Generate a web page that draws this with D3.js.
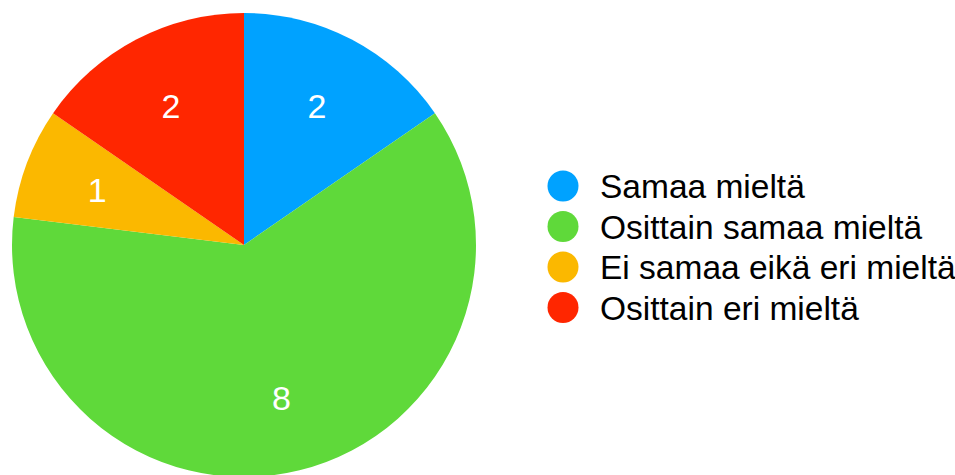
<!DOCTYPE html>
<html><head><meta charset="utf-8">
<script src="https://cdn.jsdelivr.net/npm/d3@7"></script>
<style>body{margin:0;background:#fff}</style>
</head><body>
<svg id="c" width="955" height="475"></svg>
<script>
const categories = ["Samaa mieltä", "Osittain samaa mieltä", "Ei samaa eikä eri mieltä", "Osittain eri mieltä"];
const values = [2, 8, 1, 2];
const colors = ["#00A2FF", "#5FD93A", "#FBB800", "#FF2600"];

const svg = d3.select("#c");
const cx = 244, cy = 245, r = 232;
const pie = d3.pie().sort(null).value(d => d)(values);
const arc = d3.arc().innerRadius(0).outerRadius(r);
const labelArc = d3.arc().innerRadius(157).outerRadius(157);
const g = svg.append("g").attr("transform", `translate(${cx},${cy})`);
g.selectAll("path").data(pie).join("path")
  .attr("d", arc).attr("fill", (d,i) => colors[i]);
g.selectAll("text").data(pie).join("text")
  .attr("transform", d => `translate(${labelArc.centroid(d)})`)
  .attr("text-anchor", "middle").attr("dy", "0.36em")
  .attr("fill", "#fff").attr("font-family", "Liberation Sans, Arial, sans-serif")
  .attr("font-size", 34).text(d => d.data);

const leg = svg.append("g");
const items = leg.selectAll("g").data(categories).join("g")
  .attr("transform", (d,i) => `translate(563,${186 + i*40.5})`);
items.append("circle").attr("r", 15.5).attr("fill", (d,i) => colors[i]);
items.append("text").attr("x", 37).attr("dy", "0.36em")
  .attr("font-family", "Liberation Sans, Arial, sans-serif").attr("font-size", 33.5)
  .attr("fill", "#000").text(d => d);
</script>
</body></html>
